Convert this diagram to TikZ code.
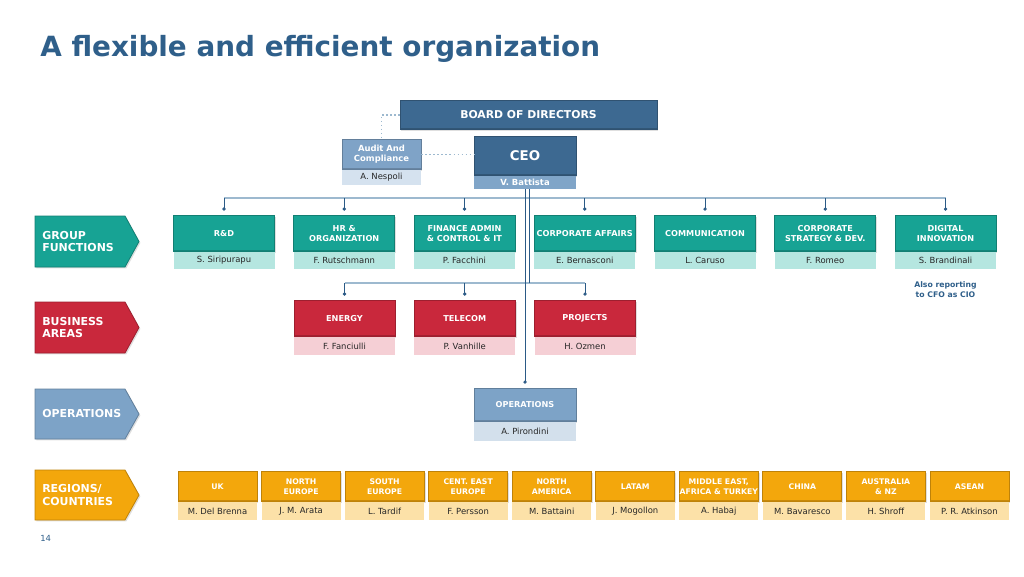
\documentclass[tikz,border=0pt]{standalone}
\usepackage{fontspec}
\setmainfont{DejaVu Sans}
\usetikzlibrary{arrows,arrows.meta,positioning,shadows}

\definecolor{titleblue}{HTML}{2F5F8A}
\definecolor{boardblue}{HTML}{3D6991}
\definecolor{ceoname}{HTML}{80A5C8}
\definecolor{audithead}{HTML}{7FA3C7}
\definecolor{auditname}{HTML}{D5E2EF}
\definecolor{gfteal}{HTML}{17A394}
\definecolor{gfname}{HTML}{B5E6E0}
\definecolor{bared}{HTML}{C9283C}
\definecolor{baname}{HTML}{F5CFD5}
\definecolor{opblue}{HTML}{7DA3C7}
\definecolor{opname}{HTML}{D3E0EC}
\definecolor{rcorange}{HTML}{F3A70C}
\definecolor{rcname}{HTML}{FCE1A8}
\definecolor{buscol}{HTML}{9DB9CF}
\definecolor{dropcol}{HTML}{2B5A86}

\tikzset{
	head/.style={fill=#1, draw=#1!78!black, line width=0.2mm, text=white, align=center, inner sep=0pt, anchor=north,
		font=\bfseries\fontsize{5.8}{6.6}\selectfont,
		drop shadow={shadow xshift=0.35mm, shadow yshift=-0.35mm, opacity=0.25},
		path picture={
			\draw[white, opacity=0.45, line width=0.5mm] (path picture bounding box.north west) -- (path picture bounding box.north east);
			\draw[black, opacity=0.18, line width=0.5mm] (path picture bounding box.south west) -- (path picture bounding box.south east);}},
	who/.style={fill=#1, text=black!85, inner sep=0pt, font=\fontsize{6}{7}\selectfont},
	chev/.style={fill=#1, draw=#1!78!black, line width=0.2mm, drop shadow={shadow xshift=0.35mm, shadow yshift=-0.35mm, opacity=0.25}},
	lbl/.style={anchor=west, text=white, align=left, inner sep=0.5mm, font=\bfseries\fontsize{7.8}{9.2}\selectfont},
	bus/.style={draw=buscol, line width=0.35mm},
	drop/.style={draw=dropcol, line width=0.2mm},
	dot/.style={drop, -{Circle[length=0.8mm]}, shorten >=1.1mm},
	dotline/.style={draw=buscol, dotted, line width=0.3mm},
}

\begin{document}
\begin{tikzpicture}[x=0.25mm, y=-0.25mm]
	\useasboundingbox (0,0) rectangle (1024,576);

	% title and page number
	\node[anchor=base west, inner sep=0pt, text=titleblue, font=\bfseries\fontsize{19.8}{22}\selectfont] (title) at (40,56) {A flexible and efficient organization};
	\node[anchor=west, inner sep=0pt, text=titleblue, font=\fontsize{6}{7}\selectfont] (page) at (40,538) {14};

	% board, audit, ceo
	\node[head=boardblue, minimum width=64.25mm, minimum height=7.25mm, font=\bfseries\fontsize{7.7}{9}\selectfont] (board) at (528.5,100) {BOARD OF DIRECTORS};
	\node[head=audithead, minimum width=19.75mm, minimum height=7.5mm, font=\bfseries\fontsize{6}{7}\selectfont] (audit) at (381.5,139) {Audit And\\Compliance};
	\node[who=auditname, minimum width=19.75mm, minimum height=3.75mm, below=0pt of audit] (auditn) {A. Nespoli};
	\node[head=boardblue, minimum width=25.5mm, minimum height=9.75mm, font=\bfseries\fontsize{9.5}{11}\selectfont] (ceo) at (525,136) {CEO};
	\node[who=ceoname, minimum width=25.5mm, minimum height=3.25mm, text=white, font=\bfseries\fontsize{6}{7}\selectfont, below=0pt of ceo] (ceon) {V. Battista};

	\draw[dotline] (board.west) -| (audit.north);
	\draw[dotline] (audit.east) -- (audit.east -| ceo.west);

	% left labels
	\draw[chev=gfteal] (35,216) -- (125,216) -- (139,241.5) -- (125,267) -- (35,267) -- cycle;
	\node[lbl] (gfl) at (40,241.5) {GROUP\\FUNCTIONS};
	\draw[chev=bared] (35,302) -- (125,302) -- (139,327.5) -- (125,353) -- (35,353) -- cycle;
	\node[lbl] (bal) at (40,327.5) {BUSINESS\\AREAS};
	\draw[chev=opblue] (35,389) -- (125,389) -- (139,414) -- (125,439) -- (35,439) -- cycle;
	\node[lbl] (opl) at (40,414) {OPERATIONS};
	\draw[chev=rcorange] (35,470) -- (125,470) -- (139,495) -- (125,520) -- (35,520) -- cycle;
	\node[lbl] (rcl) at (40,495) {REGIONS/\\COUNTRIES};

	% group functions
	\foreach \i/\t/\p in {1/R\&D/S. Siripurapu, 2/{HR \&\\ORGANIZATION}/F. Rutschmann, 3/{FINANCE ADMIN\\\& CONTROL \& IT}/P. Facchini, 4/CORPORATE AFFAIRS/E. Bernasconi, 5/COMMUNICATION/L. Caruso, 6/{CORPORATE\\STRATEGY \& DEV.}/F. Romeo, 7/{DIGITAL\\INNOVATION}/S. Brandinali}{
		\node[head=gfteal, minimum width=25.25mm, minimum height=9mm] (gf\i) at ({224+120.25*(\i-1)},215) {\t};
		\node[who=gfname, minimum width=25.25mm, minimum height=4.25mm, below=0pt of gf\i] (gf\i n) {\p};
	}
	\node[below=3mm of gf7n, inner sep=0pt, align=center, text=titleblue, font=\bfseries\fontsize{5.5}{7.1}\selectfont] (cio) {Also reporting\\to CFO as CIO};

	% business areas
	\foreach \i/\t/\p in {1/ENERGY/F. Fanciulli, 2/TELECOM/P. Vanhille, 3/PROJECTS/H. Ozmen}{
		\node[head=bared, minimum width=25.25mm, minimum height=9mm] (ba\i) at ({344.5+120.25*(\i-1)},300) {\t};
		\node[who=baname, minimum width=25.25mm, minimum height=4.5mm, below=0pt of ba\i] (ba\i n) {\p};
	}

	% operations
	\node[head=opblue, minimum width=25.5mm, minimum height=8.25mm] (ops) at (525,388) {OPERATIONS};
	\node[who=opname, minimum width=25.5mm, minimum height=4.75mm, below=0pt of ops] (opsn) {A. Pirondini};

	% regions / countries
	\foreach \i/\t/\p in {1/UK/M. Del Brenna, 2/{NORTH\\EUROPE}/J. M. Arata, 3/{SOUTH\\EUROPE}/L. Tardif, 4/{CENT. EAST\\EUROPE}/F. Persson, 5/{NORTH\\AMERICA}/M. Battaini, 6/LATAM/J. Mogollon, 7/{MIDDLE EAST,\\AFRICA \& TURKEY}/A. Habaj, 8/CHINA/M. Bavaresco, 9/{AUSTRALIA\\\& NZ}/H. Shroff, 10/ASEAN/P. R. Atkinson}{
		\node[head=rcorange, minimum width=19.75mm, minimum height=7.5mm, font=\bfseries\fontsize{5.5}{7.1}\selectfont] (rc\i) at ({217.5+83.55*(\i-1)},471) {\t};
		\node[who=rcname, minimum width=19.75mm, minimum height=4.5mm, below=0pt of rc\i] (rc\i n) {\p};
	}

	% connectors
	\coordinate (busy) at (0,198);
	\coordinate (bahub) at (0,283);
	\draw[bus] (gf1.north |- busy) -- (gf7.north |- busy);
	\foreach \i in {1,...,7}
		\draw[dot] (gf\i.north |- busy) -- (gf\i.north);
	\draw[bus] (ba1.north |- bahub) -- (ba3.north |- bahub);
	\foreach \i in {1,2,3}
		\draw[dot] (ba\i.north |- bahub) -- (ba\i.north);
	\draw[drop] ([xshift=1mm]ceon.south) -- ([xshift=1mm]ceon.south |- bahub);
	\draw[dot] (ceon.south) -- (ops.north);
\end{tikzpicture}
\end{document}
